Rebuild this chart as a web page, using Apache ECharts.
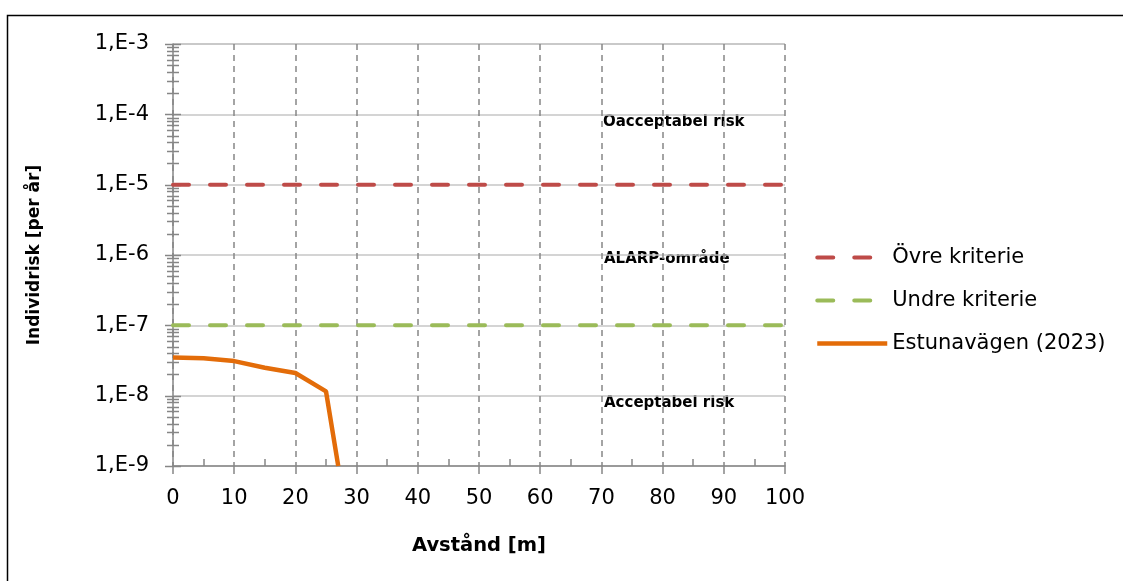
<!DOCTYPE html>
<html><head><meta charset="utf-8">
<script src="https://cdn.jsdelivr.net/npm/echarts@6/dist/echarts.min.js"></script>
<style>html,body{margin:0;padding:0;background:#fff}#c{width:1123px;height:581px}</style>
</head><body><div id="c"></div>
<script>
// Data
const distance = [0, 5, 10, 15, 20, 25, 27];
const estunavagen = [3.5e-8, 3.4e-8, 3.1e-8, 2.5e-8, 2.1e-8, 1.15e-8, 1e-9];
const criteriaX = [0, 100];
const ovreKriterie = [1e-5, 1e-5];
const undreKriterie = [1e-7, 1e-7];
const yMajorTicks = [1e-9, 1e-8, 1e-7, 1e-6, 1e-5, 1e-4, 1e-3];
const yMinorMultipliers = [2, 3, 4, 5, 6, 7, 8, 9];
const xMinorTicks = [5, 15, 25, 35, 45, 55, 65, 75, 85, 95];
const seriesNames = ['Övre kriterie', 'Undre kriterie', 'Estunavägen (2023)'];
const annotations = ['Oacceptabel risk', 'ALARP-område', 'Acceptabel risk'];

const yMinorTicks = [];
yMajorTicks.slice(0, -1).forEach(d => yMinorMultipliers.forEach(m => yMinorTicks.push(m * d)));

const FONT = '"DejaVu Sans"';
const AXIS_GRAY = '#868686';

function tickRenderer(half) {
  return function (params, api) {
    const p = api.coord([0, api.value(1)]);
    const y = Math.round(p[1]) + 0.5;
    return { type: 'line', shape: { x1: p[0] - half, y1: y, x2: p[0] + half, y2: y },
      style: { stroke: AXIS_GRAY, lineWidth: 1.5 } };
  };
}

const chart = echarts.init(document.getElementById('c'));
chart.setOption({
  animation: false,
  backgroundColor: '#fff',
  grid: { left: 173, right: 338, top: 44, bottom: 115, containLabel: false },
  legend: {
    data: seriesNames,
    orient: 'vertical',
    left: 810, top: 242,
    itemWidth: 70, itemHeight: 14, itemGap: 22,
    itemStyle: { opacity: 0 },
    lineStyle: { width: 'inherit' },
    textStyle: { fontFamily: FONT, fontSize: 21, lineHeight: 21, color: '#000' }
  },
  xAxis: [{
    type: 'value', min: 0, max: 100, interval: 10,
    name: 'Avstånd [m]', nameLocation: 'middle', nameGap: 70,
    nameTextStyle: { fontFamily: FONT, fontSize: 19.5, fontWeight: 'bold', color: '#000' },
    axisLine: { lineStyle: { color: AXIS_GRAY, width: 1.5 } },
    axisTick: { show: true, inside: false, length: 8, lineStyle: { color: AXIS_GRAY, width: 1.5 } },
    axisLabel: { fontFamily: FONT, fontSize: 21, color: '#000', margin: 22 },
    splitLine: { show: true, lineStyle: { color: AXIS_GRAY, width: 1.5, type: [6, 5] } }
  }, {
    type: 'value', min: 0, max: 100, position: 'bottom',
    axisLine: { show: false },
    axisTick: { show: true, inside: true, length: 7, customValues: xMinorTicks,
      lineStyle: { color: AXIS_GRAY, width: 1.5 } },
    axisLabel: { show: false },
    splitLine: { show: false }
  }],
  yAxis: {
    type: 'log', logBase: 10, min: 1e-9, max: 1e-3, splitNumber: 6,
    name: 'Individrisk [per år]', nameLocation: 'middle', nameGap: 130,
    nameTextStyle: { fontFamily: FONT, fontSize: 17, fontWeight: 'bold', color: '#000' },
    axisLine: { lineStyle: { color: AXIS_GRAY, width: 1.5 } },
    axisTick: { show: false },
    axisLabel: { fontFamily: FONT, fontSize: 21, color: '#000', margin: 24,
      formatter: v => '1,E' + Math.round(Math.log10(v)) },
    splitLine: { show: true, lineStyle: { color: '#c6c6c6', width: 1.5 } }
  },
  series: [
    { name: seriesNames[0], type: 'line', showSymbol: false, symbol: 'none',
      data: criteriaX.map((x, i) => [x, ovreKriterie[i]]),
      lineStyle: { color: '#BE4B48', width: 4, type: [16, 21], cap: 'round' },
      itemStyle: { color: '#BE4B48' }, z: 5 },
    { name: seriesNames[1], type: 'line', showSymbol: false, symbol: 'none',
      data: criteriaX.map((x, i) => [x, undreKriterie[i]]),
      lineStyle: { color: '#9BBB59', width: 4, type: [16, 21], cap: 'round' },
      itemStyle: { color: '#9BBB59' }, z: 5 },
    { name: seriesNames[2], type: 'line', showSymbol: false, symbol: 'none',
      data: distance.map((x, i) => [x, estunavagen[i]]),
      lineStyle: { color: '#E36C09', width: 4.5 },
      itemStyle: { color: '#E36C09' }, z: 6 },
    { name: 'yMajor', type: 'custom', clip: false, silent: true, z: 4,
      data: yMajorTicks.map(v => [0, v]), renderItem: tickRenderer(8) },
    { name: 'yMinor', type: 'custom', clip: false, silent: true, z: 4,
      data: yMinorTicks.map(v => [0, v]), renderItem: tickRenderer(6) }
  ],
  graphic: [
    { type: 'rect', left: 5, top: 13, shape: { x: 0, y: 0, width: 1200, height: 700 },
      style: { fill: 'none', stroke: '#000', lineWidth: 1.5 }, silent: true },
    { type: 'text', x: 603, y: 122, style: { text: annotations[0], fontFamily: FONT, fontSize: 15, fontWeight: 'bold', fill: '#000', verticalAlign: 'middle' } },
    { type: 'text', x: 604, y: 259, style: { text: annotations[1], fontFamily: FONT, fontSize: 15, fontWeight: 'bold', fill: '#000', verticalAlign: 'middle' } },
    { type: 'text', x: 604, y: 403, style: { text: annotations[2], fontFamily: FONT, fontSize: 15, fontWeight: 'bold', fill: '#000', verticalAlign: 'middle' } }
  ]
});
</script></body></html>
